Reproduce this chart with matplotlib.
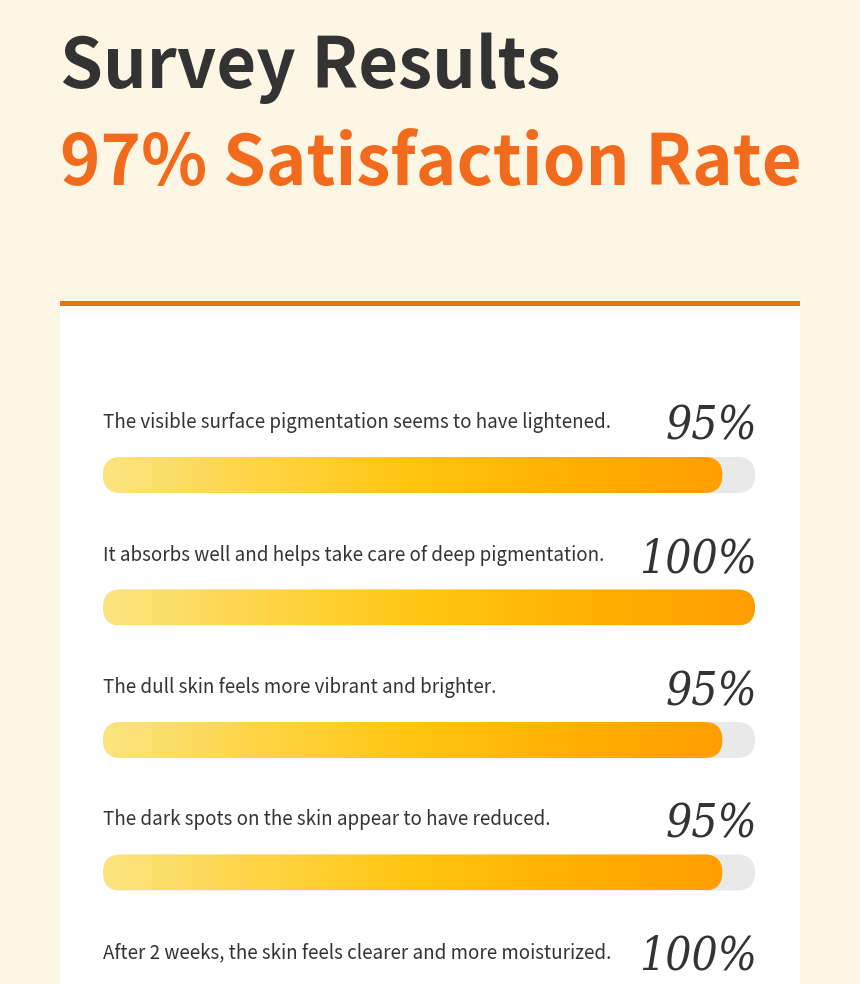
import matplotlib
matplotlib.use('Agg')
import matplotlib.pyplot as plt
from matplotlib.patches import FancyBboxPatch, Rectangle
import numpy as np

# survey data
statements = [
    'The visible surface pigmentation seems to have lightened.',
    'It absorbs well and helps take care of deep pigmentation.',
    'The dull skin feels more vibrant and brighter.',
    'The dark spots on the skin appear to have reduced.',
    'After 2 weeks, the skin feels clearer and more moisturized.',
]
scores = [95, 100, 95, 95, 100]
title_top = 'Survey Results'
title_rate = '97% Satisfaction Rate'

W, H = 860, 984
fig = plt.figure(figsize=(W / 100, H / 100), dpi=100)
fig.patch.set_facecolor('#FDF6E4')
ax = fig.add_axes([0, 0, 1, 1])
ax.set_xlim(0, W)
ax.set_ylim(H, 0)
ax.axis('off')

# titles
ax.text(60, 88, title_top, fontsize=49.5, fontweight='bold', family='Noto Sans CJK KR',
        color='#333333', ha='left', va='baseline')
ax.text(60, 185, title_rate, fontsize=49.5, fontweight='bold', family='Noto Sans CJK KR',
        color='#F26A1B', ha='left', va='baseline')

# white panel + orange top line
ax.add_patch(Rectangle((60, 305), 740, 700, facecolor='white', edgecolor='none'))
ax.add_patch(Rectangle((60, 301), 740, 5, facecolor='#E8731C', edgecolor='none'))

# gradient for bars
grad_cols = np.array([
    [251, 228, 128],
    [255, 212, 70],
    [255, 198, 15],
    [255, 176, 0],
    [255, 158, 0],
]) / 255.0
n = 256
t = np.linspace(0, 1, n)
stops = np.linspace(0, 1, len(grad_cols))
grad = np.stack([np.interp(t, stops, grad_cols[:, c]) for c in range(3)], axis=-1)
grad = grad[np.newaxis, :, :]

x0, track_w, bar_h = 103, 652, 36
row0, step = 475, 132.5
for i, (label, val) in enumerate(zip(statements, scores)):
    cy = row0 + i * step
    ax.text(x0, cy - 47, label, fontsize=13.5, family='Noto Sans CJK KR',
            color='#333333', ha='left', va='baseline')
    ax.text(x0 + track_w + 2, cy - 35, f'{val}%', fontsize=33, style='italic',
            family='DejaVu Serif', stretch='condensed', color='#333333',
            ha='right', va='baseline')
    r = bar_h / 2
    track = FancyBboxPatch((x0 + r, cy), track_w - 2 * r, 0,
                           boxstyle=f'round,pad={r}', facecolor='#E9E9E9',
                           edgecolor='none')
    ax.add_patch(track)
    fw = track_w * val / 100.0
    fill = FancyBboxPatch((x0 + r, cy), fw - 2 * r, 0,
                          boxstyle=f'round,pad={r}', facecolor='none',
                          edgecolor='none')
    ax.add_patch(fill)
    im = ax.imshow(grad, extent=(x0, x0 + fw, cy + r, cy - r), aspect='auto',
                   zorder=2, interpolation='bilinear')
    im.set_clip_path(fill)

ax.set_xlim(0, W)
ax.set_ylim(H, 0)
fig.savefig('out.png', dpi=100, facecolor=fig.get_facecolor())
